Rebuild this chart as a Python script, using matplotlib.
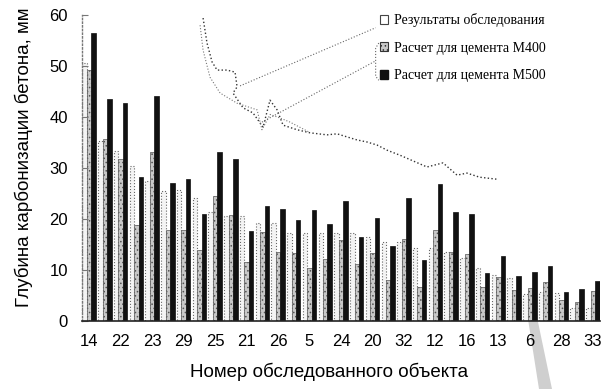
import matplotlib
matplotlib.use("Agg")
import matplotlib.pyplot as plt
import numpy as np
from matplotlib.patches import Polygon

# ---------------- data ----------------
tick_labels = ["14", "22", "23", "29", "25", "21", "26", "5", "24",
               "20", "32", "12", "16", "13", "6", "28", "33"]

results = [50.6, 35.2, 33.4, 30.3, 27.5, 25.5, 25.6, 24.1, 21.4, 20.5, 20.5,
           19.3, 19.3, 17.3, 17.3, 17.3, 17.3, 17.3, 16.4, 15.4, 15.4, 14.4,
           14.4, 13.6, 12.3, 10.3, 9.0, 8.4, 5.3, 5.6, 5.5, 2.5, 2.5]
m400 = [49.2, 35.6, 31.7, 18.8, 33.2, 17.8, 17.8, 13.9, 24.5, 20.7, 11.6,
        17.5, 13.6, 13.3, 10.3, 12.1, 15.9, 11.2, 13.3, 8.0, 16.0, 6.7,
        17.8, 13.6, 13.1, 6.7, 8.7, 6.1, 6.5, 7.6, 4.1, 3.8, 5.9]
m500 = [56.4, 43.5, 42.7, 28.3, 44.1, 27.1, 27.8, 20.9, 33.2, 31.7, 17.6,
        22.6, 21.9, 19.8, 21.7, 19.0, 23.5, 16.4, 20.1, 14.7, 24.2, 12.0,
        26.9, 21.4, 20.9, 9.5, 12.8, 8.8, 9.7, 10.8, 5.6, 6.3, 7.9]

series_names = ["Результаты обследования",
                "Расчет для цемента М400",
                "Расчет для цемента М500"]

# overlaid dotted trace (scan residue of another graph), in category / value units
trace1_x = [7.24, 7.49, 7.81, 8.13, 8.76, 9.27, 9.40, 9.14, 9.78, 10.41, 11.05,
            11.49, 11.94, 12.32, 13.21, 14.03, 15.11, 15.75, 16.38, 17.02,
            17.65, 18.29, 18.92, 19.75, 20.57, 21.46, 22.48, 23.37, 24.0,
            24.8, 25.9]
trace1_y = [59.4, 54.5, 50.8, 49.2, 49.2, 48.8, 45.9, 44.7, 41.8, 40.8, 38.0,
            43.3, 41.4, 38.4, 37.5, 36.9, 36.5, 36.7, 36.1, 35.5, 35.1, 34.5,
            33.5, 32.5, 31.4, 30.2, 31.0, 28.6, 29.0, 28.2, 27.8]
trace2_x = [7.05, 7.24, 7.68, 8.32, 9.40, 10.67, 10.98, 11.5, 12.13, 12.76, 14.0]
trace2_y = [58.0, 53.1, 47.8, 44.7, 42.7, 41.4, 37.5, 40.5, 39.8, 39.0, 37.0]
leader1_x = [9.59, 18.2]
leader1_y = [46.1, 57.5]
leader2_x = [10.98, 18.2]
leader2_y = [39.0, 51.0]
bracket_x = [18.4, 18.2, 18.2, 18.4]
bracket_y = [54.5, 53.5, 48.0, 47.2]

# ---------------- figure ----------------
W, H = 610, 389
fig = plt.figure(figsize=(W / 100, H / 100), dpi=100)
fig.patch.set_facecolor("white")
ax = fig.add_axes([82 / W, 68 / H, 518 / W, 306 / H])

plt.rcParams["hatch.linewidth"] = 0.6

x = np.arange(len(results))
w = 0.285
ax.bar(x - w, results, w, facecolor="#f4f4f4", edgecolor="#666666",
       linewidth=0.8, linestyle=":")
ax.bar(x, m400, w, facecolor="#c8c8c8", edgecolor="#555555",
       linewidth=0.5, hatch="....")
ax.bar(x + w, m500, w, facecolor="#111111", edgecolor="#111111", linewidth=0.5)

ax.plot(trace1_x, trace1_y, ls=":", color="#333333", lw=1.0)
ax.plot(trace2_x, trace2_y, ls=":", color="#777777", lw=0.8)
ax.plot(leader1_x, leader1_y, ls=":", color="#666666", lw=0.8)
ax.plot(leader2_x, leader2_y, ls=":", color="#666666", lw=0.8)
ax.plot(bracket_x, bracket_y, ls=":", color="#666666", lw=0.8)

ax.set_xlim(-0.45, len(results) - 0.55)
ax.set_ylim(0, 60)

for s in ["top", "right"]:
    ax.spines[s].set_visible(False)
ax.spines["left"].set_color("#777777")
ax.spines["left"].set_linestyle(":")
ax.spines["left"].set_linewidth(1.0)
ax.spines["bottom"].set_color("#222222")
ax.spines["bottom"].set_linewidth(1.2)

font = "Liberation Sans"
ax.set_yticks(np.arange(0, 61, 10))
ax.tick_params(axis="y", direction="in", length=4, color="#777777",
               labelsize=12, pad=10)
ax.set_xticks(x[::2])
ax.set_xticklabels(tick_labels)
ax.tick_params(axis="x", length=0, labelsize=12, pad=9)
for lab in ax.get_xticklabels() + ax.get_yticklabels():
    lab.set_fontfamily(font)

fig.text(24 / W, 1 - 157 / H, "Глубина карбонизации бетона, мм",
         rotation=90, ha="center", va="center", fontsize=13.5, family=font)
fig.text(329 / W, 1 - 372 / H, "Номер обследованного объекта",
         ha="center", va="center", fontsize=13.5, family=font)

handles = [
    plt.Rectangle((0, 0), 1, 1, facecolor="white", edgecolor="#444444", linewidth=0.8),
    plt.Rectangle((0, 0), 1, 1, facecolor="#c8c8c8", edgecolor="#333333",
                  linewidth=0.8, hatch="...."),
    plt.Rectangle((0, 0), 1, 1, facecolor="#111111", edgecolor="#111111"),
]
leg = ax.legend(handles, series_names, loc="upper left",
                bbox_to_anchor=(380 / W, 1 - 13 / H), bbox_transform=fig.transFigure,
                frameon=False, borderpad=0, borderaxespad=0,
                handlelength=0.6, handleheight=0.6, handletextpad=0.4,
                labelspacing=1.05, prop={"family": "Liberation Serif", "size": 10})

# diagonal grey scan stripe
stripe = Polygon([(525 / W, 1 - 300 / H), (533 / W, 1 - 298 / H),
                  (552 / W, 0.0), (539 / W, 0.0)], closed=True,
                 transform=fig.transFigure, facecolor="#cfcfcf",
                 edgecolor="none", zorder=-1)
fig.patches.append(stripe)

fig.savefig("out.png", dpi=100)
